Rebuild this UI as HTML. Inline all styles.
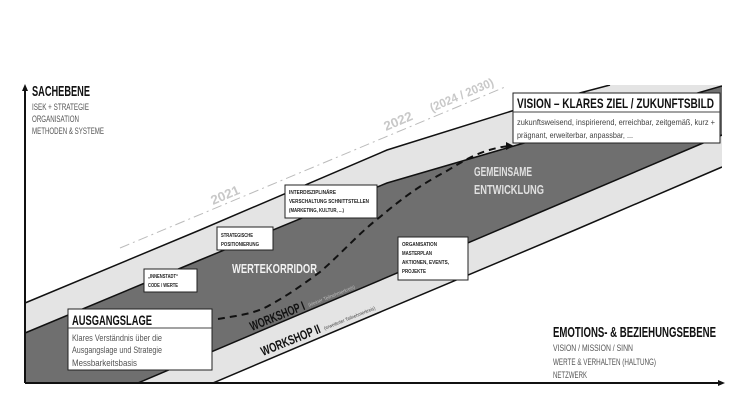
<!DOCTYPE html>
<html><head><meta charset="utf-8"><style>
html,body{margin:0;padding:0;background:#fff;}
svg{display:block;font-family:"Liberation Sans",sans-serif;}
</style></head><body>
<svg width="756" height="406" viewBox="0 0 756 406" xmlns="http://www.w3.org/2000/svg">
<defs>
<clipPath id="c"><rect x="25" y="85" width="697" height="298"/></clipPath>
</defs>
<g clip-path="url(#c)">
<polygon points="25,303 200,230 387,150 515,110 610,85 722,85 722,86 500,150 387,183 200,260 25,333" fill="#e4e4e4"/>
<polygon points="25,333 200,260 387,183 500,150 722,86 722,135 138,383 25,383" fill="#6f6f6f"/>
<polygon points="138,383 722,135 722,167 575,230 378,313 213,383" fill="#e4e4e4"/>
<polyline points="25,303 200,230 387,150 515,110 610,85" fill="none" stroke="#111" stroke-width="1.5"/>
<polyline points="25,333 200,260 387,183 500,150 722,86" fill="none" stroke="#111" stroke-width="1.5"/>
<line x1="138" y1="383" x2="722" y2="135" stroke="#111" stroke-width="1.5"/>
<polyline points="213,383 378,313 575,230 722,167" fill="none" stroke="#111" stroke-width="1.5"/>
</g>
<line x1="120" y1="248" x2="505" y2="87" stroke="#bbb" stroke-width="1" stroke-dasharray="10,4,2,4"/>
<text x="0" y="0" font-size="13" font-weight="bold" fill="#c8c8c8" transform="translate(213,205) rotate(-23)" textLength="30" lengthAdjust="spacingAndGlyphs">2021</text>
<text x="0" y="0" font-size="13" font-weight="bold" fill="#c8c8c8" transform="translate(386,131) rotate(-23)" textLength="30" lengthAdjust="spacingAndGlyphs">2022</text>
<text x="0" y="0" font-size="12" font-weight="bold" fill="#c8c8c8" transform="translate(432,112) rotate(-23)" textLength="68" lengthAdjust="spacingAndGlyphs">(2024 / 2030)</text>
<line x1="25" y1="88" x2="25" y2="383" stroke="#111" stroke-width="2"/>
<polygon points="25,84 22,91 28,91" fill="#111"/>
<line x1="25" y1="383" x2="720" y2="383" stroke="#111" stroke-width="2"/>
<polygon points="725,383 718,380 718,386" fill="#111"/>
<path d="M218,319 C235,316 255,314 270,305 C290,294 305,283 320,272 C340,255 360,232 380,217 C400,200 420,185 445,172 C465,160 480,150 508,146" fill="none" stroke="#111" stroke-width="2" stroke-dasharray="7,5"/>
<polygon points="514,146 506,142 506,150" fill="#111"/>
<text x="32" y="96" font-size="15" font-weight="bold" fill="#111" textLength="58" lengthAdjust="spacingAndGlyphs">SACHEBENE</text>
<g font-size="9" fill="#555">
<text x="32" y="110" textLength="57" lengthAdjust="spacingAndGlyphs">ISEK + STRATEGIE</text>
<text x="32" y="122" textLength="47" lengthAdjust="spacingAndGlyphs">ORGANISATION</text>
<text x="32" y="134" textLength="72" lengthAdjust="spacingAndGlyphs">METHODEN &amp; SYSTEME</text>
</g>
<text x="553" y="337" font-size="15" font-weight="bold" fill="#111" textLength="163" lengthAdjust="spacingAndGlyphs">EMOTIONS- &amp; BEZIEHUNGSEBENE</text>
<g font-size="9" fill="#555">
<text x="553" y="351" textLength="80" lengthAdjust="spacingAndGlyphs">VISION / MISSION / SINN</text>
<text x="553" y="365" textLength="103" lengthAdjust="spacingAndGlyphs">WERTE &amp; VERHALTEN (HALTUNG)</text>
<text x="553" y="378" textLength="34" lengthAdjust="spacingAndGlyphs">NETZWERK</text>
</g>
<text x="232" y="273" font-size="13" font-weight="bold" fill="#f2f2f2" textLength="85" lengthAdjust="spacingAndGlyphs">WERTEKORRIDOR</text>
<text x="474" y="176" font-size="13" font-weight="bold" fill="#e0e0e0" textLength="58" lengthAdjust="spacingAndGlyphs">GEMEINSAME</text>
<text x="474" y="194" font-size="13" font-weight="bold" fill="#e0e0e0" textLength="70" lengthAdjust="spacingAndGlyphs">ENTWICKLUNG</text>
<g transform="translate(252,331) rotate(-22)">
<text x="0" y="0" font-size="13" font-weight="bold" fill="#111" textLength="58" lengthAdjust="spacingAndGlyphs">WORKSHOP I</text>
<text x="62" y="-1" font-size="5" fill="#bbb" textLength="50" lengthAdjust="spacingAndGlyphs">(kleiner Teilnehmerkreis)</text>
</g>
<g transform="translate(263,356) rotate(-22)">
<text x="0" y="0" font-size="13" font-weight="bold" fill="#111" textLength="63" lengthAdjust="spacingAndGlyphs">WORKSHOP II</text>
<text x="67" y="-1" font-size="5" fill="#444" textLength="55" lengthAdjust="spacingAndGlyphs">(erweiterter Teilnehmerkreis)</text>
</g>
<g stroke="#222" stroke-width="1" fill="#fff">
<rect x="68" y="309" width="144" height="61"/>
<rect x="144" y="269" width="53" height="23"/>
<rect x="217" y="227" width="56" height="23"/>
<rect x="285" y="185" width="92" height="33"/>
<rect x="398" y="237" width="70" height="43"/>
<rect x="513" y="93" width="207" height="50"/>
</g>
<line x1="68" y1="328" x2="212" y2="328" stroke="#444" stroke-width="1"/>
<line x1="513" y1="112" x2="720" y2="112" stroke="#444" stroke-width="1"/>
<text x="72" y="325" font-size="14" font-weight="bold" fill="#111" textLength="80" lengthAdjust="spacingAndGlyphs">AUSGANGSLAGE</text>
<g font-size="9" fill="#555">
<text x="72" y="341" textLength="90" lengthAdjust="spacingAndGlyphs">Klares Verständnis über die</text>
<text x="72" y="353" textLength="90" lengthAdjust="spacingAndGlyphs">Ausgangslage und Strategie</text>
<text x="72" y="366" textLength="65" lengthAdjust="spacingAndGlyphs">Messbarkeitsbasis</text>
</g>
<text x="517" y="108" font-size="14" font-weight="bold" fill="#111" textLength="197" lengthAdjust="spacingAndGlyphs">VISION – KLARES ZIEL / ZUKUNFTSBILD</text>
<g font-size="8.5" fill="#444">
<text x="517" y="125" textLength="198" lengthAdjust="spacingAndGlyphs">zukunftsweisend, inspirierend, erreichbar, zeitgemäß, kurz +</text>
<text x="517" y="138" textLength="116" lengthAdjust="spacingAndGlyphs">prägnant, erweiterbar, anpassbar, ...</text>
</g>
<g font-size="5.5" font-weight="bold" fill="#222">
<text x="148" y="278" textLength="30" lengthAdjust="spacingAndGlyphs">„INNENSTADT“</text>
<text x="148" y="287" textLength="30" lengthAdjust="spacingAndGlyphs">CODE / WERTE</text>
<text x="221" y="237" textLength="32" lengthAdjust="spacingAndGlyphs">STRATEGISCHE</text>
<text x="221" y="246" textLength="38" lengthAdjust="spacingAndGlyphs">POSITIONIERUNG</text>
<text x="289" y="194" textLength="47" lengthAdjust="spacingAndGlyphs">INTERDISZIPLINÄRE</text>
<text x="289" y="203" textLength="80" lengthAdjust="spacingAndGlyphs">VERSCHALTUNG SCHNITTSTELLEN</text>
<text x="289" y="212" textLength="55" lengthAdjust="spacingAndGlyphs">(MARKETING, KULTUR, ...)</text>
<text x="402" y="246" textLength="35" lengthAdjust="spacingAndGlyphs">ORGANISATION</text>
<text x="402" y="255" textLength="30" lengthAdjust="spacingAndGlyphs">MASTERPLAN</text>
<text x="402" y="264" textLength="47" lengthAdjust="spacingAndGlyphs">AKTIONEN, EVENTS,</text>
<text x="402" y="273" textLength="24" lengthAdjust="spacingAndGlyphs">PROJEKTE</text>
</g>
</svg>
</body></html>
